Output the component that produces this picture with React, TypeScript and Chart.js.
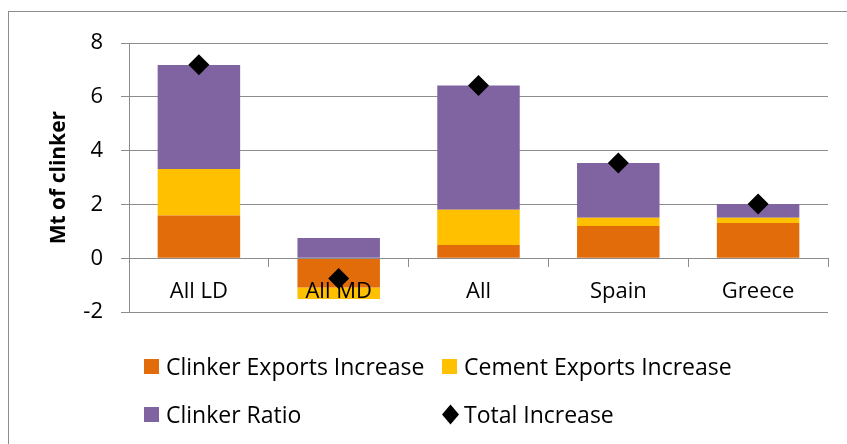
import React, { useEffect, useRef } from 'react';
import { Chart, registerables } from 'chart.js';

Chart.register(...registerables);

const categories = ['All LD', 'All MD', 'All', 'Spain', 'Greece'];
const clinkerExportsIncrease = [1.59, -1.09, 0.49, 1.2, 1.31];
const cementExportsIncrease = [1.73, -0.43, 1.31, 0.31, 0.2];
const clinkerRatio = [3.87, 0.75, 4.63, 2.03, 0.51];
const totalIncrease = [7.2, -0.75, 6.43, 3.54, 2.02];
const yMin = -2;
const yMax = 8;
const yStep = 2;

const seriesLabels = ['Clinker Exports Increase', 'Cement Exports Increase', 'Clinker Ratio', 'Total Increase'];
const seriesColors = ['#E36C0A', '#FFC000', '#8064A2', '#000000'];

const FONT = "'Open Sans', 'Noto Sans', sans-serif";
const GRID = '#8c8c8c';

const legendPlugin = {
  id: 'customLegend',
  afterDraw(chart: any) {
    const ctx = chart.ctx as CanvasRenderingContext2D;
    const datasets = chart.data.datasets;
    const colX = [135, 433];
    const rowY = [354.5, 402.5];
    ctx.save();
    ctx.font = `23px ${FONT}`;
    datasets.forEach((ds: any, i: number) => {
      const x = colX[i % 2];
      const y = rowY[Math.floor(i / 2)];
      if (ds.type === 'line') {
        ctx.fillStyle = ds.pointBackgroundColor;
        ctx.beginPath();
        ctx.moveTo(x + 8.5, y - 10);
        ctx.lineTo(x + 17, y);
        ctx.lineTo(x + 8.5, y + 10);
        ctx.lineTo(x, y);
        ctx.closePath();
        ctx.fill();
      } else {
        ctx.fillStyle = ds.backgroundColor;
        ctx.fillRect(x, y - 7.5, 15, 15);
      }
      ctx.fillStyle = '#000';
      ctx.textBaseline = 'alphabetic';
      ctx.fillText(ds.label, x + 22, y + 8);
    });
    ctx.restore();
  },
};

export default function App() {
  const ref = useRef<HTMLCanvasElement | null>(null);
  useEffect(() => {
    if (!ref.current) return;
    const barCommon = {
      type: 'bar' as const,
      order: 1,
      stack: 'bars',
      barPercentage: 1,
      categoryPercentage: 0.59,
    };
    const chart = new Chart(ref.current, {
      type: 'bar',
      data: {
        labels: categories,
        datasets: [
          { ...barCommon, label: seriesLabels[0], data: clinkerExportsIncrease, backgroundColor: seriesColors[0] },
          { ...barCommon, label: seriesLabels[1], data: cementExportsIncrease, backgroundColor: seriesColors[1] },
          { ...barCommon, label: seriesLabels[2], data: clinkerRatio, backgroundColor: seriesColors[2] },
          {
            type: 'line',
            label: seriesLabels[3],
            data: totalIncrease,
            showLine: false,
            stack: 'total',
            order: 0,
            pointStyle: 'rectRot',
            pointRadius: 10.5,
            pointBorderWidth: 0,
            pointBackgroundColor: seriesColors[3],
            pointBorderColor: seriesColors[3],
            borderColor: seriesColors[3],
            backgroundColor: seriesColors[3],
          } as any,
        ],
      },
      options: {
        responsive: false,
        animation: false,
        layout: { padding: { top: 30, right: 19, bottom: 132, left: 0 } },
        plugins: {
          legend: { display: false },
          tooltip: { enabled: false },
        },
        scales: {
          x: {
            stacked: true,
            position: { y: 0 } as any,
            grid: {
              display: true,
              drawOnChartArea: false,
              drawTicks: true,
              tickLength: 8,
              color: GRID,
              offset: true,
              z: 1,
            } as any,
            border: { display: true, color: GRID, width: 1, z: 1 } as any,
            ticks: {
              color: '#000',
              font: { family: FONT, size: 22 },
              padding: 12,
              maxRotation: 0,
              autoSkip: false,
              z: 1,
            },
          },
          y: {
            stacked: true,
            min: yMin,
            max: yMax,
            ticks: {
              stepSize: yStep,
              color: '#000',
              font: { family: FONT, size: 22 },
              padding: 18,
            },
            grid: { color: GRID, tickLength: 8, lineWidth: 1 },
            border: { display: true, color: GRID, width: 1 },
            title: {
              display: true,
              text: 'Mt of clinker',
              color: '#000',
              font: { family: FONT, size: 21, weight: 'bold' },
              padding: { top: 37, bottom: 0 },
            },
            afterFit: (s: any) => {
              s.width = 120;
            },
          },
        },
      },
      plugins: [legendPlugin],
    });
    return () => chart.destroy();
  }, []);

  return (
    <div
      style={{
        position: 'absolute',
        left: 8,
        top: 11,
        width: 850,
        height: 440,
        border: '1px solid #8c8c8c',
        boxSizing: 'border-box',
      }}
    >
      <canvas
        ref={ref}
        width={838}
        height={432}
        style={{ position: 'absolute', left: 0, top: 0, width: 838, height: 432 }}
      />
    </div>
  );
}
